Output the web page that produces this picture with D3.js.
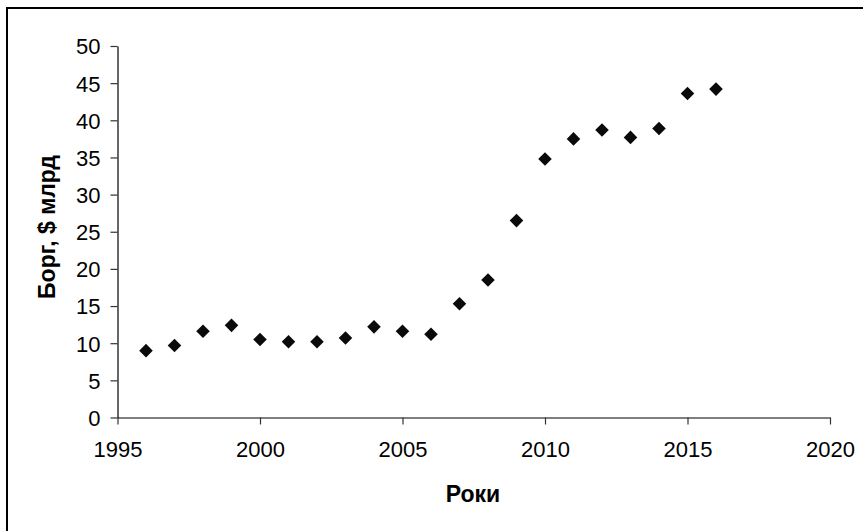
<!DOCTYPE html>
<html>
<head>
<meta charset="utf-8">
<script src="https://cdn.jsdelivr.net/npm/d3@7/dist/d3.min.js"></script>
<style>
  html, body { margin: 0; padding: 0; background: #fff; }
  svg { display: block; }
  text { font-family: "Liberation Sans", Arial, sans-serif; fill: #000; }
</style>
</head>
<body>
<svg id="chart" width="863" height="531"></svg>
<script>
// Debt by year, $ billion
const years = [1996, 1997, 1998, 1999, 2000, 2001, 2002, 2003, 2004, 2005, 2006,
               2007, 2008, 2009, 2010, 2011, 2012, 2013, 2014, 2015, 2016];
const debt  = [9.0, 9.7, 11.6, 12.4, 10.5, 10.2, 10.2, 10.7, 12.2, 11.6, 11.2,
               15.3, 18.5, 26.5, 34.8, 37.5, 38.7, 37.7, 38.9, 43.6, 44.2];
const xTicks = [1995, 2000, 2005, 2010, 2015, 2020];
const yTicks = [0, 5, 10, 15, 20, 25, 30, 35, 40, 45, 50];
const xTitle = "Роки";
const yTitle = "Борг, $ млрд";

const svg = d3.select("#chart");

// outer frame
svg.append("rect")
  .attr("x", 7).attr("y", 8)
  .attr("width", 900).attr("height", 600)
  .attr("fill", "none").attr("stroke", "#000").attr("stroke-width", 2);

const x = d3.scaleLinear().domain([1995, 2020]).range([117.5, 830]);
const y = d3.scaleLinear().domain([0, 50]).range([417.5, 46]);

const xAxis = svg.append("g")
  .attr("transform", `translate(0,${y(0)})`)
  .call(d3.axisBottom(x).tickValues(xTicks).tickFormat(d3.format("d"))
          .tickSize(7).tickSizeOuter(0).tickPadding(17));
const yAxis = svg.append("g")
  .attr("transform", `translate(${x(1995)},0)`)
  .call(d3.axisLeft(y).tickValues(yTicks).tickSize(7).tickSizeOuter(0).tickPadding(10));

[xAxis, yAxis].forEach(g => {
  g.select(".domain").attr("stroke", "#000").attr("stroke-width", 1.2);
  g.selectAll(".tick line").attr("stroke", "#333").attr("stroke-width", 1.2);
  g.selectAll(".tick text").attr("font-size", 22).attr("fill", "#000")
    .style("font-family", "'Liberation Sans', Arial, sans-serif");
});
yAxis.selectAll(".tick text").attr("dy", "0.36em");

// diamond markers
const diamond = d3.symbol().type(d3.symbolSquare).size(92);
svg.append("g")
  .selectAll("path")
  .data(years.map((yr, i) => ({ yr, v: debt[i] })))
  .join("path")
  .attr("d", diamond)
  .attr("transform", d => `translate(${x(d.yr)},${y(d.v)}) rotate(45)`)
  .attr("fill", "#0a0a0a");

// axis titles
svg.append("text")
  .attr("x", 473).attr("y", 502)
  .attr("text-anchor", "middle")
  .attr("font-size", 23).attr("font-weight", "bold")
  .text(xTitle);

svg.append("text")
  .attr("transform", `translate(55,227) rotate(-90)`)
  .attr("text-anchor", "middle")
  .attr("font-size", 23).attr("font-weight", "bold")
  .text(yTitle);
</script>
</body>
</html>
